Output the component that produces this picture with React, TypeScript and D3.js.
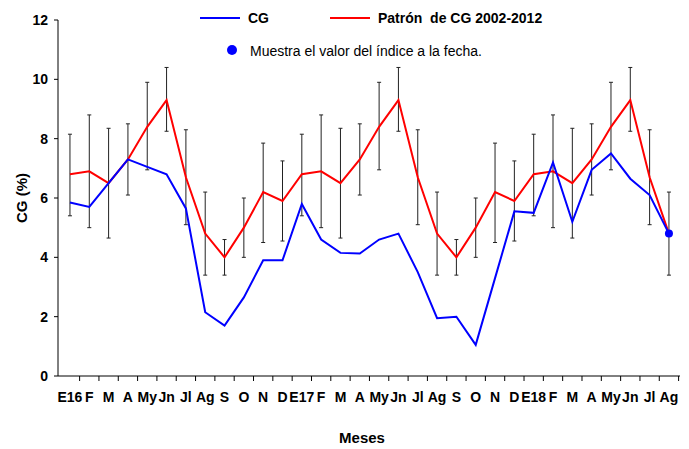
import * as d3 from "d3";

const months = ["E16", "F", "M", "A", "My", "Jn", "Jl", "Ag", "S", "O", "N", "D",
  "E17", "F", "M", "A", "My", "Jn", "Jl", "Ag", "S", "O", "N", "D",
  "E18", "F", "M", "A", "My", "Jn", "Jl", "Ag"];
const cg = [5.85, 5.7, 6.5, 7.3, 7.05, 6.8, 5.65, 2.15, 1.7, 2.65, 3.9, 3.9,
  5.8, 4.6, 4.15, 4.13, 4.6, 4.8, 3.5, 1.95, 2.0, 1.05, 3.3, 5.55,
  5.5, 7.2, 5.2, 6.95, 7.5, 6.65, 6.1, 4.8];
const patternYear = [6.8, 6.9, 6.5, 7.3, 8.4, 9.3, 6.7, 4.8, 4.0, 5.0, 6.2, 5.9];
const lowYear = [5.4, 5.0, 4.65, 6.1, 6.95, 8.25, 5.1, 3.4, 3.4, 4.0, 4.5, 4.55];
const highYear = [8.15, 8.8, 8.35, 8.5, 9.9, 10.4, 8.3, 6.2, 4.6, 6.0, 7.85, 7.25];
const yTicks = [0, 2, 4, 6, 8, 10, 12];

const W = 689, H = 449;
const m = { left: 58, right: 680, top: 20, bottom: 376 };

export default function App() {
  const idx = months.map((_, i) => i);
  const x = d3.scaleBand<number>().domain(idx).range([60.3, 678.6]);
  const cx = (i: number) => (x(i) as number) + x.bandwidth() / 2;
  const y = d3.scaleLinear().domain([0, 12]).range([m.bottom, m.top]);
  const pat = idx.map((i) => patternYear[i % 12]);
  const line = d3.line<number>().x((_, i) => cx(i)).y((d) => y(d));
  const font = "'Liberation Sans', Arial, sans-serif";
  return (
    <svg width={W} height={H} style={{ position: "absolute", left: 0, top: 0 }} fontFamily={font}>
      <rect width={W} height={H} fill="#fff" />
      {/* error bars */}
      {idx.map((i) => {
        const lo = y(lowYear[i % 12]), hi = y(highYear[i % 12]), c = cx(i);
        return (
          <g key={i} stroke="#222" strokeWidth={1}>
            <line x1={c} x2={c} y1={lo} y2={hi} />
            <line x1={c - 2} x2={c + 2} y1={lo} y2={lo} />
            <line x1={c - 2} x2={c + 2} y1={hi} y2={hi} />
          </g>
        );
      })}
      <path d={line(pat) ?? ""} fill="none" stroke="#ff0000" strokeWidth={2} />
      <path d={line(cg) ?? ""} fill="none" stroke="#0000ff" strokeWidth={2} />
      <circle cx={cx(cg.length - 1)} cy={y(cg[cg.length - 1])} r={4} fill="#0000ff" />
      {/* axes */}
      <line x1={m.left} x2={m.left} y1={m.top} y2={m.bottom} stroke="#000" />
      <line x1={m.left} x2={m.right} y1={m.bottom} y2={m.bottom} stroke="#000" />
      {yTicks.map((t) => (
        <g key={t}>
          <line x1={m.left - 4} x2={m.left} y1={y(t)} y2={y(t)} stroke="#000" />
          <text x={m.left - 10} y={y(t) + 5} textAnchor="end" fontSize={14} fontWeight="bold">{t}</text>
        </g>
      ))}
      {idx.slice(1).concat([months.length]).map((i) => {
        const xx = i < months.length ? (x(i) as number) : 678.6;
        return <line key={i} x1={xx} x2={xx} y1={m.bottom} y2={m.bottom + 5} stroke="#000" />;
      })}
      {months.map((mo, i) => (
        <text key={i} x={cx(i)} y={m.bottom + 26} textAnchor="middle" fontSize={14} fontWeight="bold">{mo}</text>
      ))}
      <text transform={`translate(27,${(m.top + m.bottom) / 2}) rotate(-90)`} textAnchor="middle" fontSize={15} fontWeight="bold">CG (%)</text>
      <text x={362} y={443} textAnchor="middle" fontSize={15} fontWeight="bold">Meses</text>
      {/* legend */}
      <line x1={200} x2={240} y1={18} y2={18} stroke="#0000ff" strokeWidth={2} />
      <text x={248} y={23} fontSize={14} fontWeight="bold">CG</text>
      <line x1={330} x2={370} y1={18} y2={18} stroke="#ff0000" strokeWidth={2} />
      <text x={378} y={23} fontSize={14} fontWeight="bold" style={{ whiteSpace: "pre" }}>Patrón  de CG 2002-2012</text>
      <circle cx={232} cy={50} r={5} fill="#0000ff" />
      <text x={250} y={56} fontSize={14}>Muestra el valor del índice a la fecha.</text>
    </svg>
  );
}
